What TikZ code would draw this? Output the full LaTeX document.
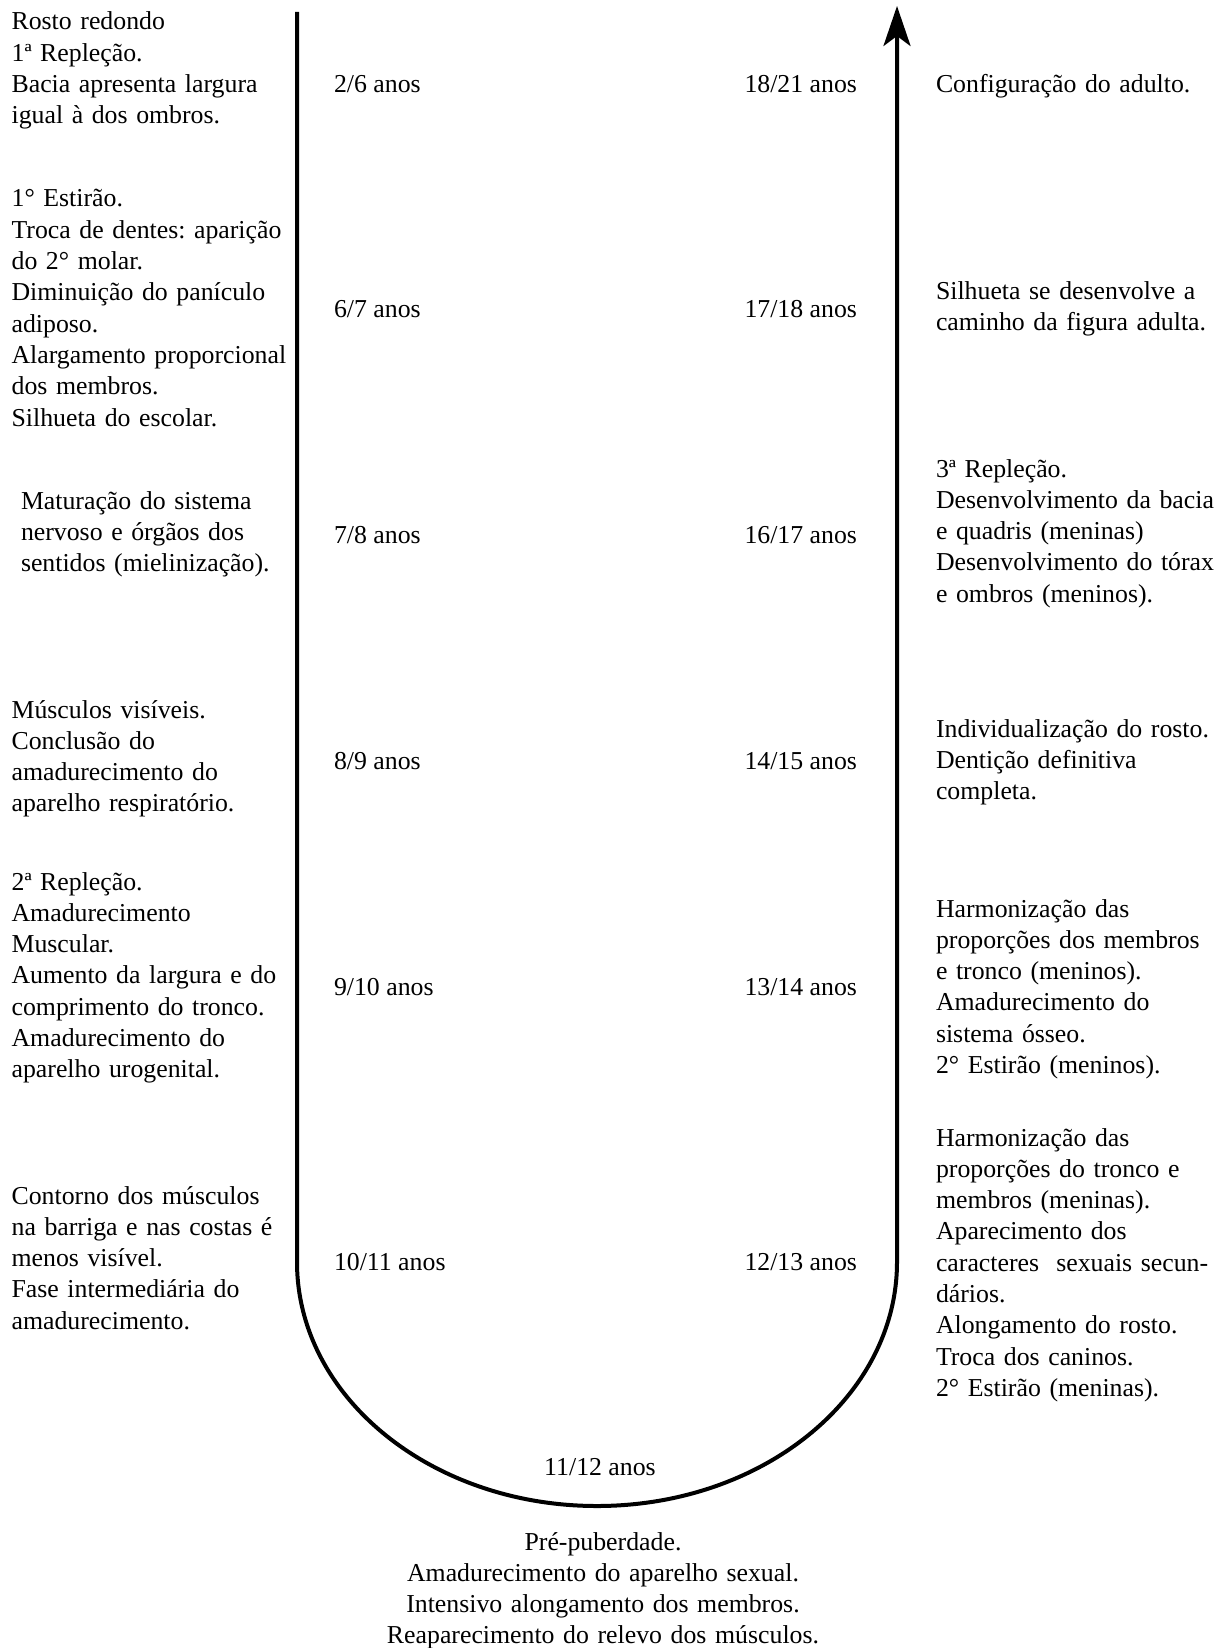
\documentclass[tikz,border=0pt]{standalone}
\usepackage{fontspec}
\setmainfont{Liberation Serif}
\usetikzlibrary{arrows.meta}
\frenchspacing
\begin{document}
\begin{tikzpicture}[x=1pt,y=1pt,
  txt/.style={inner sep=0pt, outer sep=0pt, font=\fontsize{25.8pt}{31.3pt}\selectfont\frenchspacing},
  blockl/.style={txt, text width=320pt, align=left, anchor=base west},
  blockc/.style={txt, text width=600pt, align=center, anchor=base},
  agel/.style={txt, anchor=base west},
  ager/.style={txt, anchor=base east},
  agec/.style={txt, anchor=base},
  path/.style={line width=4pt, -{Stealth[length=40pt,width=27pt,inset=10pt]}}]
\useasboundingbox (0,0) rectangle (1226,-1648);

% U-shaped arrow
\coordinate (ltop) at (297,-12);
\coordinate (lbend) at (297,-1262);
\coordinate (rbend) at (897,-1262);
\coordinate (rtop) at (897,-6);
\draw[path] (ltop) -- (lbend) arc[start angle=180, end angle=360, x radius=300, y radius=244] -- (rtop);

% left descriptions
\node[blockl] (l1) at (11.6,-30) {Rosto redondo\\1ª Repleção.\\Bacia apresenta largura\\igual à dos ombros.};
\node[blockl] (l2) at (11.6,-207) {1° Estirão.\\Troca de dentes: aparição\\do 2° molar.\\Diminuição do panículo\\adiposo.\\Alargamento proporcional\\dos membros.\\Silhueta do escolar.};
\node[blockl] (l3) at (21,-509) {Maturação do sistema\\nervoso e órgãos dos\\sentidos (mielinização).};
\node[blockl] (l4) at (11.6,-718) {Músculos visíveis.\\Conclusão do\\amadurecimento do\\aparelho respiratório.};
\node[blockl] (l5) at (11.6,-890) {2ª Repleção.\\Amadurecimento\\Muscular.\\Aumento da largura e do\\comprimento do tronco.\\Amadurecimento do\\aparelho urogenital.};
\node[blockl] (l6) at (11.6,-1204) {Contorno dos músculos\\na barriga e nas costas é\\menos visível.\\Fase intermediária do\\amadurecimento.};

% left ages
\node[agel] (a1) at (334,-93) {2/6 anos};
\node[agel] (a2) at (334,-317) {6/7 anos};
\node[agel] (a3) at (334,-543) {7/8 anos};
\node[agel] (a4) at (334,-769) {8/9 anos};
\node[agel] (a5) at (334,-995) {9/10 anos};
\node[agel] (a6) at (334,-1270) {10/11 anos};

% right ages
\node[ager] (b1) at (857,-93) {18/21 anos};
\node[ager] (b2) at (857,-317) {17/18 anos};
\node[ager] (b3) at (857,-543) {16/17 anos};
\node[ager] (b4) at (857,-769) {14/15 anos};
\node[ager] (b5) at (857,-995) {13/14 anos};
\node[ager] (b6) at (857,-1270) {12/13 anos};

% bottom age
\node[agec] (c0) at (600,-1475) {11/12 anos};

% right descriptions
\node[blockl] (r1) at (936,-93) {Configuração do adulto.};
\node[blockl] (r2) at (936,-299) {Silhueta se desenvolve a\\caminho da figura adulta.};
\node[blockl] (r3) at (936,-477) {3ª Repleção.\\Desenvolvimento da bacia\\e quadris (meninas)\\Desenvolvimento do tórax\\e ombros (meninos).};
\node[blockl] (r4) at (936,-737) {Individualização do rosto.\\Dentição definitiva\\completa.};
\node[blockl] (r5) at (936,-917) {Harmonização das\\proporções dos membros\\e tronco (meninos).\\Amadurecimento do\\sistema ósseo.\\2° Estirão (meninos).};
\node[blockl] (r6) at (936,-1146) {Harmonização das\\proporções do tronco e\\membros (meninas).\\Aparecimento dos\\caracteres~ sexuais secun-\\dários.\\Alongamento do rosto.\\Troca dos caninos.\\2° Estirão (meninas).};

% bottom description
\node[blockc] (bot) at (603,-1550) {Pré-puberdade.\\Amadurecimento do aparelho sexual.\\Intensivo alongamento dos membros.\\Reaparecimento do relevo dos músculos.};
\end{tikzpicture}
\end{document}
